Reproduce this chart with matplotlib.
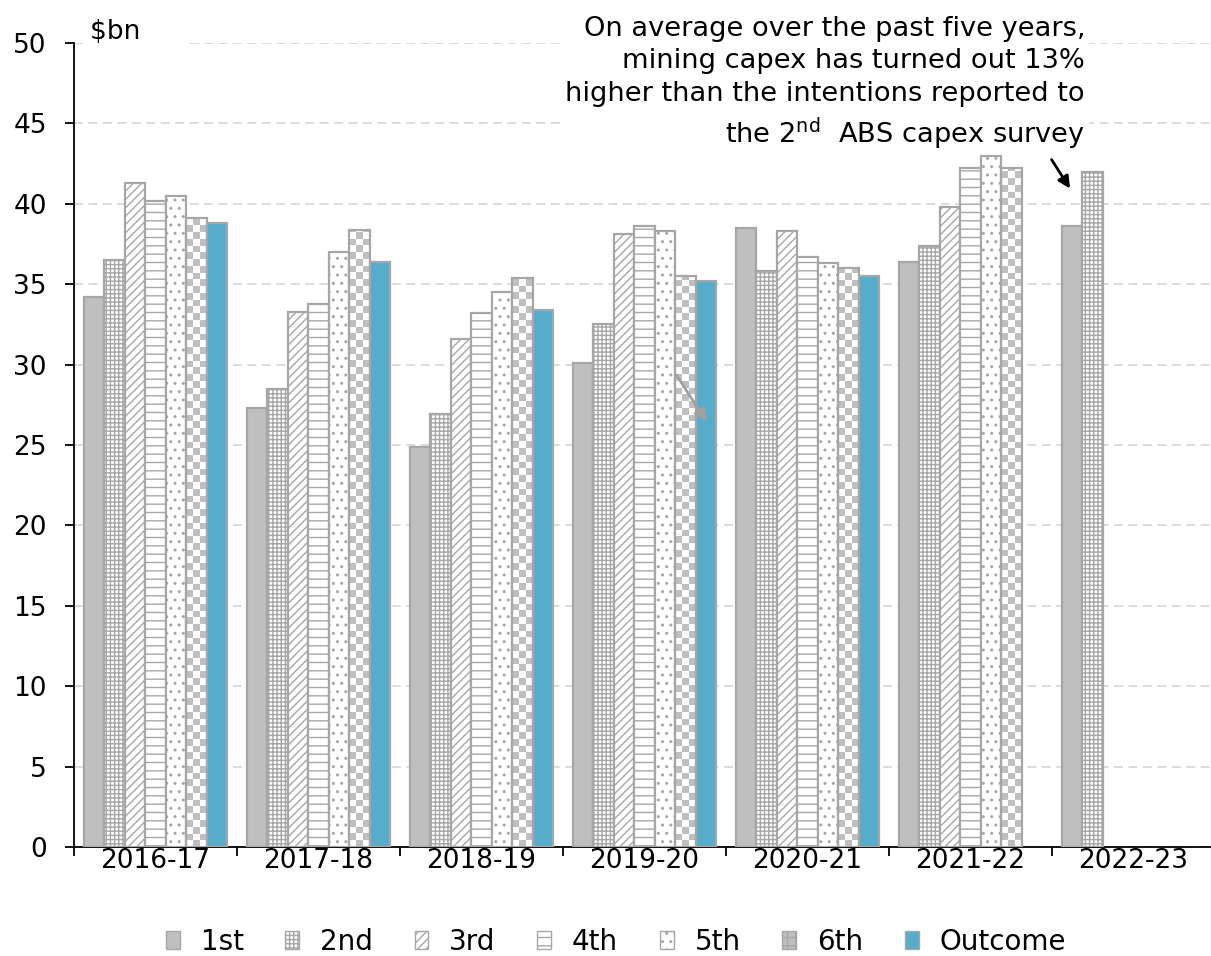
import numpy as np
import matplotlib
matplotlib.use('Agg')
import matplotlib.pyplot as plt
from matplotlib.patches import Patch

plt.rcParams['font.family'] = ['DejaVu Sans']
plt.rcParams['mathtext.fontset'] = 'dejavusans'
plt.rcParams['hatch.linewidth'] = 1.0

years = ['2016-17', '2017-18', '2018-19', '2019-20', '2020-21', '2021-22', '2022-23']
est_1st = [34.2, 27.3, 24.9, 30.1, 38.5, 36.4, 38.6]
est_2nd = [36.5, 28.5, 26.9, 32.5, 35.8, 37.4, 42.0]
est_3rd = [41.3, 33.3, 31.6, 38.1, 38.3, 39.8, np.nan]
est_4th = [40.2, 33.8, 33.2, 38.6, 36.7, 42.2, np.nan]
est_5th = [40.5, 37.0, 34.5, 38.3, 36.3, 43.0, np.nan]
est_6th = [39.1, 38.4, 35.4, 35.5, 36.0, 42.2, np.nan]
outcome = [38.8, 36.4, 33.4, 35.2, 35.5, np.nan, np.nan]

series = [est_1st, est_2nd, est_3rd, est_4th, est_5th, est_6th, outcome]
names = ['1st', '2nd', '3rd', '4th', '5th', '6th', 'Outcome']

grey = '#BFBFBF'
edge = '#A6A6A6'
blue = '#56ACCB'
styles = [
    dict(facecolor=grey, hatch=None),
    dict(facecolor='white', hatch='++++'),
    dict(facecolor='white', hatch='////'),
    dict(facecolor='white', hatch='--'),
    dict(facecolor='white', hatch='..'),
    dict(facecolor='none', hatch=None),
    dict(facecolor=blue, hatch=None),
]
fs = 19

fig = plt.figure(figsize=(12.11, 9.56), dpi=100)
ax = fig.add_axes([0.0611, 0.1140, 0.9422, 0.8410])

x = np.arange(len(years))
w = 0.126
bar_sets = []
for k, (vals, st) in enumerate(zip(series, styles)):
    bars = ax.bar(x + (k - 3) * w, vals, width=w, edgecolor=edge,
                  linewidth=1.6, zorder=3, **st)
    bar_sets.append(bars)

# checkerboard fill for the 6th survey
cell_y = 0.42
for b in bar_sets[5]:
    h = b.get_height()
    if not np.isfinite(h) or h <= 0:
        continue
    nrow = int(np.ceil(h / cell_y))
    ii, jj = np.indices((nrow, 3))
    chk = ((ii + jj) % 2).astype(float)
    x0 = b.get_x()
    img = ax.imshow(chk, cmap=matplotlib.colors.ListedColormap(['white', grey]),
                    extent=(x0, x0 + b.get_width(), 0, nrow * cell_y),
                    origin='lower', interpolation='nearest', aspect='auto', zorder=2.5)
    img.set_clip_path(b)
ax.set_xlim(-0.5, 6.5)
ax.set_ylim(0, 50)
ax.set_aspect('auto')

ax.set_yticks(np.arange(0, 51, 5))
ax.yaxis.grid(True, color='#D9D9D9', linestyle=(0, (5, 3)), linewidth=1.3)
ax.set_axisbelow(True)
ax.tick_params(axis='y', length=6.5, width=1.3, pad=13, labelsize=fs, direction='out')

ax.set_xticks(np.arange(-0.5, 7, 1))
ax.set_xticklabels([])
ax.set_xticks(x, minor=True)
ax.set_xticklabels(years, minor=True)
ax.tick_params(axis='x', which='major', length=6.5, width=1.3, direction='out')
ax.tick_params(axis='x', which='minor', length=0, pad=1, labelsize=fs)

for s in ['top', 'right']:
    ax.spines[s].set_visible(False)
for s in ['left', 'bottom']:
    ax.spines[s].set_linewidth(1.3)

# text boxes sit above the gridlines but below the bars
ax.text(90 / 1211, 1 - 32 / 956, r'\$bn' + '     ', fontsize=fs, va='center', ha='left',
        transform=fig.transFigure, zorder=2,
        bbox=dict(facecolor='white', edgecolor='none', boxstyle='square,pad=0.15'))

note = ('On average over the past five years,\n'
        'mining capex has turned out 13%\n'
        'higher than the intentions reported to\n'
        r'the 2$^{\mathrm{nd}}$  ABS capex survey')
ax.text(1085 / 1211, 1 - 84 / 956, note, fontsize=19.6, ha='right', va='center',
        multialignment='right', linespacing=1.33, transform=fig.transFigure, zorder=2,
        bbox=dict(facecolor='white', edgecolor='none', boxstyle='square,pad=0.15'))

ax.annotate('', xy=(5.62, 40.8), xytext=(5.488, 42.9), zorder=4,
            arrowprops=dict(arrowstyle='-|>', color='black', lw=2, mutation_scale=18))
ax.annotate('', xy=(3.39, 26.3), xytext=(3.187, 29.5), zorder=4,
            arrowprops=dict(arrowstyle='-|>', color='#A0A0A0', lw=2, mutation_scale=18))

handles = []
for k, (nm, st) in enumerate(zip(names, styles)):
    if k == 5:
        handles.append(Patch(facecolor=grey, edgecolor=edge, hatch='++', label=nm))
    else:
        handles.append(Patch(edgecolor=edge, label=nm, **st))
fig.legend(handles=handles, loc='center', bbox_to_anchor=(616 / 1211, 1 - 942 / 956),
           ncol=7, frameon=False, fontsize=20, handlelength=0.5, handleheight=0.6,
           handletextpad=0.75, columnspacing=1.5)

fig.savefig('out.png', dpi=100)
